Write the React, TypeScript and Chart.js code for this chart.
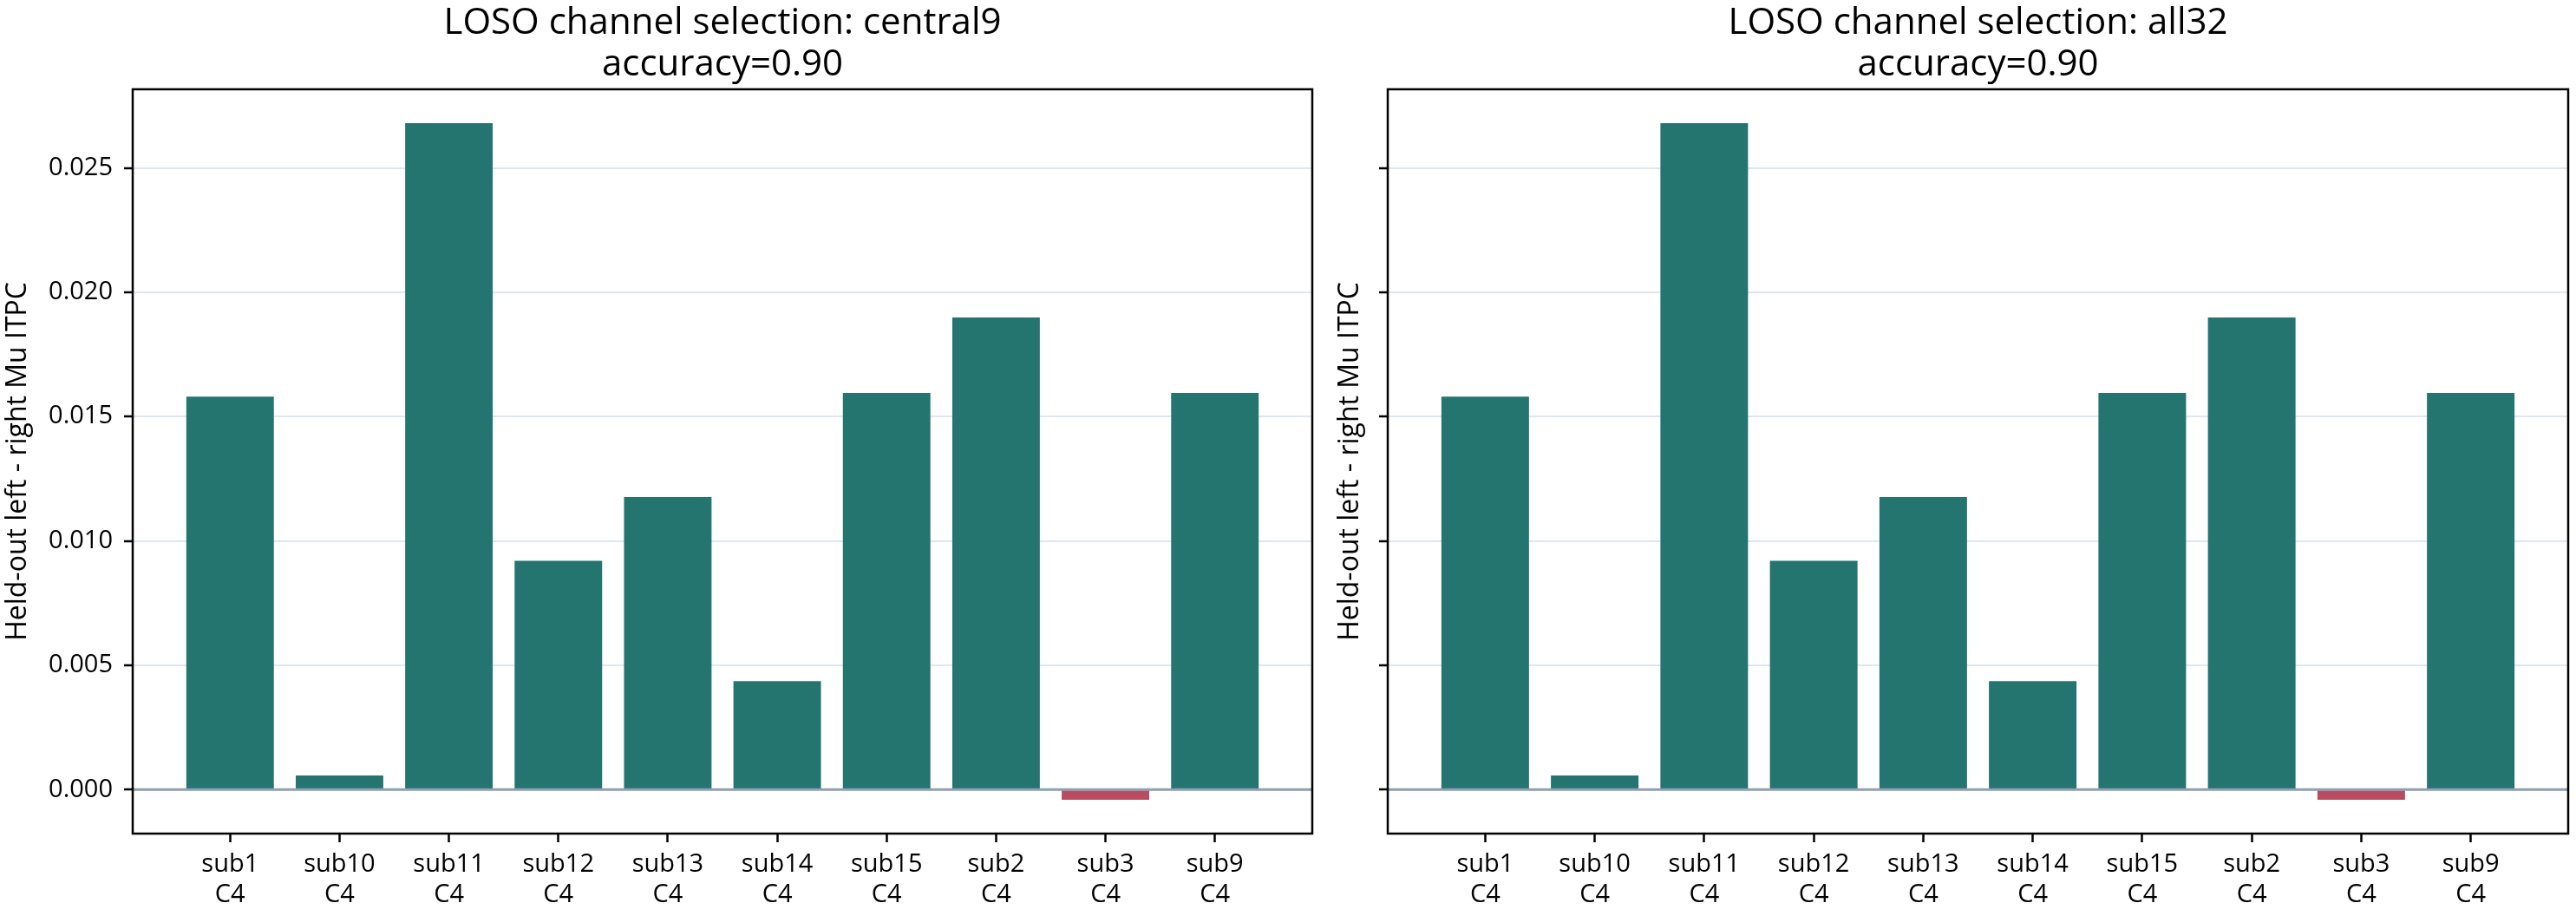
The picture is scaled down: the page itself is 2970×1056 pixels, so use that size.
import React, { useEffect, useRef } from 'react';
import { Chart, registerables } from 'chart.js';

Chart.register(...registerables);

// ---- data ----
const categories = ['sub1', 'sub10', 'sub11', 'sub12', 'sub13', 'sub14', 'sub15', 'sub2', 'sub3', 'sub9'];
const channels = ['C4', 'C4', 'C4', 'C4', 'C4', 'C4', 'C4', 'C4', 'C4', 'C4'];
const central9Values = [0.0158, 0.00057, 0.0268, 0.0092, 0.01176, 0.00436, 0.01595, 0.01898, -0.00041, 0.01595];
const all32Values = [0.0158, 0.00057, 0.0268, 0.0092, 0.01176, 0.00436, 0.01595, 0.01898, -0.00041, 0.01595];
const yTickValues = [0, 0.005, 0.01, 0.015, 0.02, 0.025];
const central9Title = ['LOSO channel selection: central9', 'accuracy=0.90'];
const all32Title = ['LOSO channel selection: all32', 'accuracy=0.90'];
const yAxisTitle = 'Held-out left - right Mu ITPC';

// ---- style ----
const FONT = "'Open Sans', 'Noto Sans', sans-serif";
const TEAL = '#24756f';
const RED = '#b84c62';
const GRID = '#e0e6ef';
const ZERO = '#8e9fb5';
const TEXT = '#000000';

const framePlugin = {
  id: 'frame',
  afterDatasetsDraw(chart: any) {
    const { ctx, chartArea } = chart;
    const { left, right, top, bottom } = chartArea;
    const y0 = chart.scales.y.getPixelForValue(0);
    ctx.save();
    ctx.strokeStyle = ZERO;
    ctx.lineWidth = 3;
    ctx.beginPath();
    ctx.moveTo(left, y0);
    ctx.lineTo(right, y0);
    ctx.stroke();
    ctx.strokeStyle = '#000';
    ctx.lineWidth = 2.5;
    ctx.strokeRect(left, top, right - left, bottom - top);
    ctx.restore();
  },
};

type PanelProps = {
  values: number[];
  title: string[];
  left: number;
  width: number;
  axisWidth: number;
  padRight: number;
  showYLabels: boolean;
  yTitlePad: number;
};

function Panel({ values, title, left, width, axisWidth, padRight, showYLabels, yTitlePad }: PanelProps) {
  const ref = useRef<HTMLCanvasElement>(null);
  useEffect(() => {
    const lo = Math.min(0, ...values);
    const hi = Math.max(0, ...values);
    const ypad = 0.05 * (hi - lo);
    const xpad = 0.05 * (categories.length - 1 + 0.8);
    const chart = new Chart(ref.current as HTMLCanvasElement, {
      type: 'bar',
      data: {
        datasets: [
          {
            data: values.map((v, i) => ({ x: i, y: v })),
            backgroundColor: values.map((v) => (v >= 0 ? TEAL : RED)),
            borderWidth: 0,
            barPercentage: 0.8,
            categoryPercentage: 1,
          } as any,
        ],
      },
      options: {
        responsive: false,
        animation: false,
        devicePixelRatio: 1,
        layout: { padding: { left: 0, right: padRight, top: 0, bottom: 0 } },
        plugins: {
          legend: { display: false },
          tooltip: { enabled: false },
          title: {
            display: true,
            text: title,
            fullSize: false,
            color: TEXT,
            font: { family: FONT, size: 42, weight: 'normal', lineHeight: 1.136 },
            padding: { top: 3.5, bottom: 4 },
          },
        },
        scales: {
          x: {
            type: 'linear',
            offset: false,
            min: -0.4 - xpad,
            max: categories.length - 1 + 0.4 + xpad,
            afterBuildTicks: (s: any) => {
              s.ticks = categories.map((_, i) => ({ value: i }));
            },
            afterFit: (s: any) => {
              s.height = 95;
            },
            ticks: {
              autoSkip: false,
              maxRotation: 0,
              minRotation: 0,
              padding: 9,
              color: TEXT,
              font: { family: FONT, size: 29, lineHeight: 1.18 },
              callback: (v: any) => [categories[v], channels[v]],
            },
            grid: {
              offset: false,
              drawOnChartArea: false,
              drawTicks: true,
              tickLength: 10,
              tickColor: '#000',
              tickWidth: 2.5,
            },
            border: { display: false },
          },
          y: {
            min: lo - ypad,
            max: hi + ypad,
            afterBuildTicks: (s: any) => {
              s.ticks = yTickValues.map((v) => ({ value: v }));
            },
            afterFit: (s: any) => {
              s.width = axisWidth;
            },
            ticks: {
              padding: 13,
              color: TEXT,
              font: { family: FONT, size: 29 },
              callback: (v: any) => (showYLabels ? Number(v).toFixed(3) : ''),
            },
            grid: {
              color: GRID,
              lineWidth: 2,
              drawTicks: true,
              tickLength: 10,
              tickColor: '#000',
              tickWidth: 2.5,
            },
            border: { display: false },
            title: {
              display: true,
              text: yAxisTitle,
              color: TEXT,
              font: { family: FONT, size: 32, lineHeight: 1.2 },
              padding: { top: yTitlePad, bottom: 0 },
            },
          },
        },
      } as any,
      plugins: [framePlugin],
    });
    return () => chart.destroy();
  }, []);
  return (
    <canvas
      ref={ref}
      width={width}
      height={1056}
      style={{ position: 'absolute', left, top: 0, width, height: 1056, display: 'block' }}
    />
  );
}

export default function App() {
  return (
    <div style={{ position: 'absolute', left: 0, top: 0, width: 2970, height: 1056, background: '#fff', overflow: 'hidden' }}>
      <Panel values={central9Values} title={central9Title} left={0} width={1530} axisWidth={153} padRight={17} showYLabels={true} yTitlePad={1.6} />
      <Panel values={all32Values} title={all32Title} left={1530} width={1440} axisWidth={70} padRight={9} showYLabels={false} yTitlePad={7.5} />
    </div>
  );
}
